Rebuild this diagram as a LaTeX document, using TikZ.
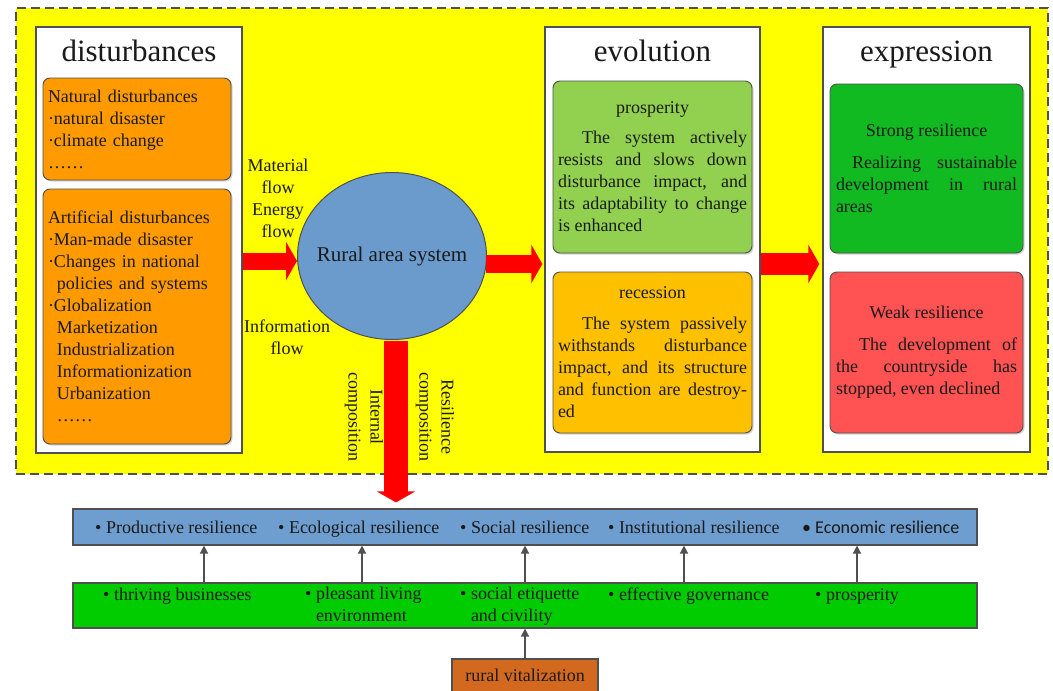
\documentclass[tikz,border=0pt]{standalone}
\usepackage{fontspec}
\setmainfont{Liberation Serif}
\newfontfamily\calfont{Carlito}
\usetikzlibrary{shapes.geometric,arrows.meta,calc,shadows}
\definecolor{ylw}{HTML}{FFFF00}
\definecolor{orng}{HTML}{FF9A00}
\definecolor{prosp}{HTML}{92D050}
\definecolor{recs}{HTML}{FFC000}
\definecolor{strg}{HTML}{12BA22}
\definecolor{weak}{HTML}{FF5252}
\definecolor{ellc}{HTML}{6A9BCC}
\definecolor{bbar}{HTML}{6E9ECF}
\definecolor{gbar}{HTML}{00CC00}
\definecolor{rvc}{HTML}{D2691E}
\definecolor{edge}{HTML}{505050}
\definecolor{txt}{HTML}{1A1A1A}
\begin{document}
\begin{tikzpicture}[x=1pt,y=-1pt,
  font=\rmfamily\fontsize{18}{22}\selectfont, text=txt,
  frame/.style={draw=edge, fill=ylw, line width=2.2pt, dash pattern=on 9pt off 5pt},
  panel/.style={draw=edge, fill=white, line width=1.3pt},
  cbox/.style={draw=edge, line width=0.9pt, rounded corners=7pt, inner xsep=5pt, inner ysep=0pt,
     drop shadow={shadow xshift=1.5pt, shadow yshift=-1.5pt, opacity=0.35}},
  ttl/.style={font=\rmfamily\fontsize{31}{36}\selectfont, anchor=base, inner sep=0pt},
  fat/.style={draw=red, line width=#1, -{Triangle[width=38pt,length=11pt]}},
  bar/.style={draw=edge, line width=1.2pt},
  itm/.style={anchor=base west, inner sep=0pt},
  up/.style={draw=edge, line width=1.6pt, -{Triangle[width=8pt,length=8pt]}}
]
\useasboundingbox (0,0) rectangle (1053,691);
\fill[white] (0,0) rectangle (1053,691);
% frame
\node[frame, minimum width=1032pt, minimum height=466pt] (frm) at (532,241) {};
% panels
\node[panel, minimum width=206pt, minimum height=426pt] (dist) at (139,240) {};
\node[panel, minimum width=215pt, minimum height=425pt] (evo) at (652.5,239.5) {};
\node[panel, minimum width=207pt, minimum height=425pt] (expr) at (926.5,239.5) {};
\node[ttl] (t1) at (139,61) {disturbances};
\node[ttl] (t2) at (652.5,61) {evolution};
\node[ttl] (t3) at (926.5,61) {expression};
% disturbance boxes
\node[cbox, fill=orng, minimum width=188pt, minimum height=102pt, text width=178pt, align=left] (nat) at (137,129)
 {Natural disturbances\\·natural disaster\\·climate change\\……};
\node[cbox, fill=orng, minimum width=188pt, minimum height=255pt, text width=178pt, align=left] (art) at (137,316.5)
 {Artificial disturbances\\·Man-made disaster\\·Changes in national\\\hspace*{9pt}policies and systems\\·Globalization\\\hspace*{9pt}Marketization\\\hspace*{9pt}Industrialization\\\hspace*{9pt}Informationization\\\hspace*{9pt}Urbanization\\\hspace*{9pt}……};
% evolution boxes
\node[cbox, fill=prosp, minimum width=199pt, minimum height=172pt, text width=189pt, align=justify] (pros) at (652.5,167)
 {{\centering prosperity\par}\vspace{8pt}\hspace*{24pt}The system actively\linebreak resists and slows down\linebreak disturbance impact, and\linebreak its adaptability to change\linebreak is enhanced};
\node[cbox, fill=recs, minimum width=199pt, minimum height=161pt, text width=189pt, align=justify] (rec) at (652.5,352.5)
 {{\centering recession\par}\vspace{9pt}\hspace*{24pt}The system passively\linebreak withstands disturbance\linebreak impact, and its structure\linebreak and function are destroy-\linebreak ed};
% expression boxes
\node[cbox, fill=strg, minimum width=193pt, minimum height=169pt, text width=181pt, inner xsep=6pt, align=justify] (str) at (926.5,168.5)
 {{\centering Strong resilience\par}\vspace{10pt}\hspace*{16pt}Realizing sustainable\linebreak development in rural\linebreak areas};
\node[cbox, fill=weak, minimum width=193pt, minimum height=161pt, text width=181pt, inner xsep=6pt, align=justify] (wk) at (926.5,352.5)
 {{\centering Weak resilience\par}\vspace{10pt}\hspace*{23pt}The development of\linebreak the countryside has\linebreak stopped, even declined};
% ellipse
\node[ellipse, draw=edge, line width=1pt, fill=ellc, minimum width=189pt, minimum height=167pt, inner sep=0pt,
  label={[font=\rmfamily\fontsize{21}{25}\selectfont, text=txt]center:Rural area system}] (ell) at (392,256) {};
% flow labels
\node[align=center, inner sep=0pt] (mf) at (278,198) {Material\\flow\\Energy\\flow};
\node[align=center, inner sep=0pt] (inf) at (287,337) {Information\\flow};
\node[align=center, inner sep=0pt, rotate=-90] (ic) at (364,417) {Internal\\composition};
\node[align=center, inner sep=0pt, rotate=-90] (rcmp) at (435,417) {Resilience\\composition};
% bottom bars
\node[bar, fill=bbar, minimum width=904pt, minimum height=36pt] (bb) at (525,527) {};
\node[bar, fill=gbar, minimum width=904pt, minimum height=45pt] (gb) at (525,605.5) {};
\node[bar, fill=rvc, minimum width=146pt, minimum height=33pt] (rv) at (525,675.5) {rural vitalization};
% fat arrows
\coordinate (ra) at (0,261);
\coordinate (rb) at (0,264);
\coordinate (rc) at (0,264);
\draw[fat=17pt] (dist.east |- ra) -- (ell.west |- ra);
\draw[fat=18pt, shorten >=2pt] ($(ell.east |- rb)+(-1,0)$) -- (evo.west |- rb);
\draw[fat=22pt, shorten >=3pt] (evo.east |- rc) -- (expr.west |- rc);
\coordinate (dtop) at ($(ell.south)+(4,1)$);
\draw[fat=24pt, shorten >=6pt] (dtop) -- (bb.north -| dtop);
% bar items
\node[itm] (b1) at (95,533) {• Productive resilience};
\node[itm] (b2) at (278,533) {• Ecological resilience};
\node[itm] (b3) at (460,533) {• Social resilience};
\node[itm] (b4) at (608,533) {• Institutional resilience};
\node[itm, font=\calfont\fontsize{18}{22}\selectfont] (b5) at (802,533) {• Economic resilience};
\node[itm] (g1) at (103,600) {• thriving businesses};
\node[itm, anchor=north west, align=left] (g2) at (305,587) {• pleasant living\\\hphantom{• }environment};
\node[itm, anchor=north west, align=left] (g3) at (460,587) {• social etiquette\\\hphantom{• }and civility};
\node[itm] (g4) at (608,600) {• effective governance};
\node[itm] (g5) at (815,600) {• prosperity};
% thin arrows
\foreach \xx/\nm in {204/a1,362/a2,525/a3,684/a4,857/a5}{
  \coordinate (\nm) at (\xx,0);
  \draw[up] (gb.north -| \nm) -- (bb.south -| \nm);
}
\draw[up] (rv.north) -- (gb.south -| rv.north);
\end{tikzpicture}
\end{document}
